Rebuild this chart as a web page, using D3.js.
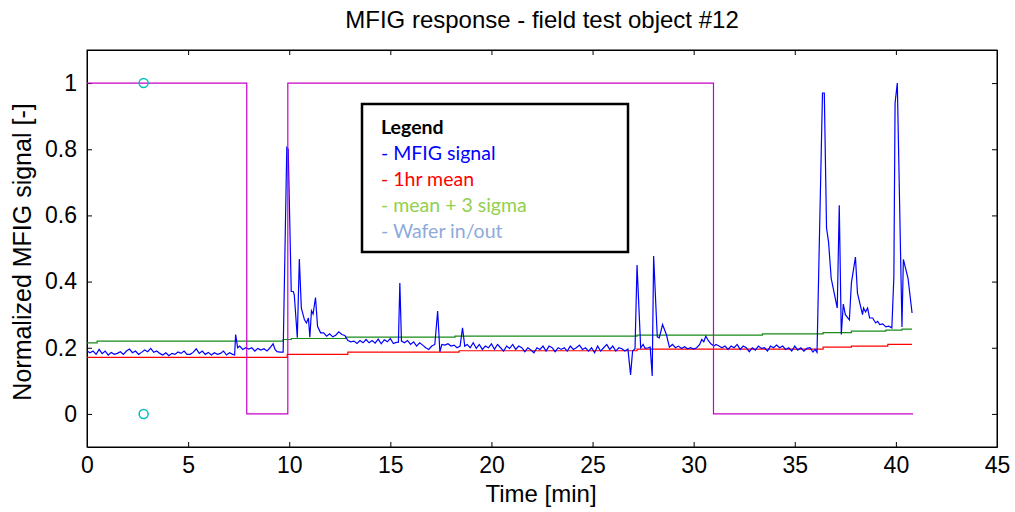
<!DOCTYPE html>
<html lang="en">
<head>
<meta charset="utf-8">
<title>MFIG response</title>
<script src="https://cdn.jsdelivr.net/npm/d3@7/dist/d3.min.js"></script>
<style>
  body { margin: 0; background: #fff; }
  svg text { font-family: "Liberation Sans", Arial, sans-serif; }
  .legend text { font-family: Lato, "Open Sans", sans-serif; font-size: 19.5px; }
</style>
</head>
<body>
<svg width="1015" height="512"></svg>
<script>
// MFIG signal, [time min, normalized value]
const signal = [
  [0,0.19],[0.15,0.185],[0.3,0.19],[0.45,0.18],[0.6,0.195],[0.75,0.182],[0.9,0.19],[1.05,0.178],
  [1.2,0.186],[1.35,0.18],[1.5,0.183],[1.65,0.188],[1.8,0.18],[1.95,0.19],[2.1,0.196],[2.25,0.185],
  [2.4,0.19],[2.55,0.18],[2.7,0.186],[2.85,0.193],[3.0,0.188],[3.15,0.198],[3.3,0.186],[3.45,0.19],
  [3.6,0.183],[3.75,0.178],[3.9,0.185],[4.05,0.176],[4.2,0.183],[4.35,0.18],[4.5,0.187],[4.65,0.183],
  [4.8,0.19],[4.95,0.18],[5.1,0.18],[5.25,0.186],[5.4,0.197],[5.55,0.183],[5.7,0.19],[5.85,0.18],
  [6.0,0.186],[6.15,0.178],[6.3,0.185],[6.45,0.18],[6.6,0.183],[6.75,0.19],[6.9,0.178],[7.05,0.185],
  [7.2,0.18],[7.3,0.178],[7.35,0.24],[7.45,0.2],[7.55,0.205],[7.7,0.195],[7.85,0.2],[8.0,0.196],
  [8.15,0.2],[8.3,0.19],[8.45,0.198],[8.6,0.193],[8.75,0.197],[8.9,0.19],[9.05,0.2],[9.2,0.212],
  [9.3,0.195],[9.4,0.188],[9.55,0.187],[9.7,0.187],[9.88,0.805],[9.95,0.8],[10.1,0.37],[10.2,0.37],
  [10.25,0.36],[10.4,0.23],[10.5,0.468],[10.6,0.32],[10.75,0.285],[10.85,0.275],[10.95,0.29],[11.02,0.232],
  [11.1,0.312],[11.18,0.302],[11.3,0.352],[11.4,0.265],[11.55,0.245],[11.7,0.245],[11.85,0.235],[12.0,0.242],
  [12.15,0.233],[12.3,0.238],[12.45,0.248],[12.6,0.24],[12.75,0.237],[12.9,0.222],[13.05,0.218],[13.2,0.22],
  [13.35,0.213],[13.5,0.222],[13.65,0.215],[13.8,0.225],[13.95,0.215],[14.1,0.222],[14.25,0.214],[14.4,0.226],
  [14.55,0.212],[14.7,0.224],[14.85,0.218],[15.0,0.228],[15.15,0.213],[15.3,0.216],[15.4,0.217],[15.47,0.396],
  [15.55,0.22],[15.7,0.215],[15.85,0.222],[16.0,0.21],[16.15,0.218],[16.3,0.205],[16.45,0.215],[16.6,0.208],
  [16.75,0.2],[16.9,0.195],[17.05,0.205],[17.2,0.21],[17.34,0.311],[17.45,0.188],[17.55,0.21],[17.7,0.208],
  [17.85,0.212],[18.0,0.205],[18.15,0.208],[18.3,0.2],[18.45,0.205],[18.57,0.26],[18.68,0.205],[18.8,0.21],
  [18.95,0.2],[19.1,0.215],[19.25,0.198],[19.4,0.21],[19.55,0.195],[19.7,0.205],[19.85,0.2],[20.0,0.212],
  [20.15,0.195],[20.3,0.21],[20.45,0.2],[20.6,0.19],[20.75,0.205],[20.9,0.198],[21.05,0.21],[21.2,0.195],
  [21.35,0.205],[21.5,0.2],[21.65,0.188],[21.8,0.2],[21.95,0.193],[22.1,0.185],[22.25,0.2],[22.4,0.195],
  [22.55,0.205],[22.7,0.19],[22.85,0.205],[23.0,0.2],[23.15,0.188],[23.3,0.2],[23.45,0.195],[23.6,0.2],
  [23.75,0.19],[23.9,0.205],[24.05,0.195],[24.2,0.2],[24.35,0.208],[24.5,0.195],[24.65,0.2],[24.8,0.19],
  [24.95,0.2],[25.1,0.185],[25.25,0.205],[25.4,0.19],[25.55,0.2],[25.7,0.21],[25.85,0.195],[26.0,0.205],
  [26.15,0.19],[26.3,0.2],[26.45,0.197],[26.6,0.19],[26.75,0.196],[26.88,0.118],[26.98,0.19],[27.1,0.197],
  [27.2,0.45],[27.38,0.2],[27.5,0.21],[27.6,0.198],[27.75,0.2],[27.85,0.202],[27.95,0.115],[28.02,0.477],
  [28.2,0.233],[28.3,0.23],[28.46,0.27],[28.65,0.24],[28.8,0.202],[28.95,0.21],[29.1,0.2],[29.25,0.205],
  [29.4,0.198],[29.55,0.203],[29.7,0.197],[29.85,0.2],[30.0,0.196],[30.15,0.2],[30.3,0.21],[30.4,0.225],
  [30.5,0.218],[30.6,0.235],[30.72,0.222],[30.85,0.212],[31.0,0.205],[31.1,0.21],[31.25,0.205],[31.4,0.2],
  [31.55,0.205],[31.7,0.195],[31.85,0.205],[32.0,0.2],[32.15,0.21],[32.3,0.195],[32.45,0.205],[32.6,0.2],
  [32.75,0.188],[32.9,0.2],[33.05,0.193],[33.2,0.205],[33.35,0.198],[33.5,0.2],[33.65,0.19],[33.8,0.205],
  [33.95,0.2],[34.1,0.208],[34.25,0.2],[34.4,0.205],[34.55,0.195],[34.7,0.2],[34.85,0.19],[35.0,0.205],
  [35.15,0.193],[35.3,0.2],[35.45,0.19],[35.6,0.198],[35.75,0.2],[35.9,0.187],[36.0,0.195],[36.1,0.186],
  [36.37,0.97],[36.46,0.97],[36.57,0.562],[36.67,0.52],[36.8,0.41],[37.1,0.32],[37.2,0.631],[37.3,0.24],
  [37.4,0.332],[37.5,0.3],[37.7,0.284],[37.8,0.396],[38.0,0.474],[38.1,0.365],[38.35,0.3],[38.4,0.32],
  [38.5,0.308],[38.6,0.32],[38.7,0.29],[38.85,0.29],[39.0,0.275],[39.1,0.28],[39.2,0.27],[39.35,0.272],
  [39.5,0.263],[39.65,0.265],[39.8,0.26],[39.9,0.414],[39.96,0.94],[40.07,1.0],[40.3,0.263],[40.37,0.467],
  [40.6,0.41],[40.8,0.305]
];

// 1hr mean (step changes)
const meanSteps = [[0,0.171],[9.9,0.18],[12.9,0.187],[18.4,0.191],[27.2,0.196],[36.4,0.202],[37.8,0.205],[39.6,0.21],[40.8,0.21]];
// mean + 3 sigma
const sigmaSteps = [[0,0.215],[0.5,0.22],[9.7,0.225],[10.1,0.228],[12.8,0.232],[18.2,0.235],[27.2,0.238],[33.4,0.242],[36.4,0.246],[37.8,0.25],[39.5,0.253],[40.3,0.256],[40.8,0.256]];
// wafer in/out
const waferSteps = [[0,1],[7.9,0],[9.93,1],[30.98,0],[40.85,0]];
const markers = [[2.8,1],[2.8,0]];

const xTicks = [0,5,10,15,20,25,30,35,40,45];
const yTicks = [0,0.2,0.4,0.6,0.8,1];
const legendItems = [
  {label:"Legend", color:"#000", bold:true},
  {label:"- MFIG signal", color:"#0000ff"},
  {label:"- 1hr mean", color:"#ff0000"},
  {label:"- mean + 3 sigma", color:"#92d050"},
  {label:"- Wafer in/out", color:"#8eaadb"}
];

const svg = d3.select("svg");
const L = 87, R = 997, T = 50, B = 447;

const x = d3.scaleLinear().domain([0,45]).range([L,R]);
const y = d3.scaleLinear().domain([-0.1,1.1]).range([B,T]);

const fmt = d => d === 0 || d === 1 ? String(d) : d.toFixed(1);

svg.append("g").attr("transform",`translate(0,${B})`)
  .call(d3.axisBottom(x).tickValues(xTicks).tickSizeInner(-5).tickSizeOuter(0).tickPadding(10))
  .call(g => g.selectAll("text").attr("font-size",23).attr("fill","#000").attr("font-family","Liberation Sans, Arial"));
svg.append("g").attr("transform",`translate(0,${T})`)
  .call(d3.axisTop(x).tickValues(xTicks).tickSizeInner(-5).tickSizeOuter(0).tickFormat(""));
svg.append("g").attr("transform",`translate(${L},0)`)
  .call(d3.axisLeft(y).tickValues(yTicks).tickSizeInner(-5).tickSizeOuter(0).tickPadding(10).tickFormat(fmt))
  .call(g => g.selectAll("text").attr("font-size",23).attr("fill","#000").attr("font-family","Liberation Sans, Arial"));
svg.append("g").attr("transform",`translate(${R},0)`)
  .call(d3.axisRight(y).tickValues(yTicks).tickSizeInner(-5).tickSizeOuter(0).tickFormat(""));
svg.selectAll(".domain").attr("stroke","#000");
svg.selectAll(".tick line").attr("stroke","#000");

svg.append("rect").attr("x",L).attr("y",T).attr("width",R-L).attr("height",B-T)
  .attr("fill","none").attr("stroke","#000").attr("stroke-width",1);

const stepLine = d3.line().x(d => x(d[0])).y(d => y(d[1])).curve(d3.curveStepAfter);
const line = d3.line().x(d => x(d[0])).y(d => y(d[1]));

svg.append("path").datum(meanSteps).attr("d",stepLine)
  .attr("fill","none").attr("stroke","#ff0000").attr("stroke-width",1.2);
svg.append("path").datum(sigmaSteps).attr("d",stepLine)
  .attr("fill","none").attr("stroke","#1a8c1a").attr("stroke-width",1.2);
svg.append("path").datum(signal).attr("d",line)
  .attr("fill","none").attr("stroke","#0000ff").attr("stroke-width",1.2);
svg.append("path").datum(waferSteps).attr("d",stepLine)
  .attr("fill","none").attr("stroke","#c800c8").attr("stroke-width",1.2);

svg.selectAll("circle.marker").data(markers).enter().append("circle")
  .attr("class","marker")
  .attr("cx",d => x(d[0])).attr("cy",d => y(d[1])).attr("r",4.5)
  .attr("fill","none").attr("stroke","#00bfbf").attr("stroke-width",1.5);

// title and axis labels
svg.append("text").attr("x",542).attr("y",28).attr("text-anchor","middle")
  .attr("font-size",24).text("MFIG response - field test object #12");
svg.append("text").attr("x",541).attr("y",502).attr("text-anchor","middle")
  .attr("font-size",24).text("Time [min]");
svg.append("text").attr("transform","translate(31,252) rotate(-90)").attr("text-anchor","middle")
  .attr("font-size",25).text("Normalized MFIG signal [-]");

// legend box
const lg = svg.append("g").attr("class","legend");
lg.append("rect").attr("x",362).attr("y",104).attr("width",266).attr("height",148)
  .attr("fill","#fff").attr("stroke","#000").attr("stroke-width",2.5);
lg.selectAll("text").data(legendItems).enter().append("text")
  .attr("x",381).attr("y",(d,i) => 134 + i*26)
  .attr("fill",d => d.color).attr("font-weight",d => d.bold ? "bold" : "normal")
  .text(d => d.label);
</script>
</body>
</html>
